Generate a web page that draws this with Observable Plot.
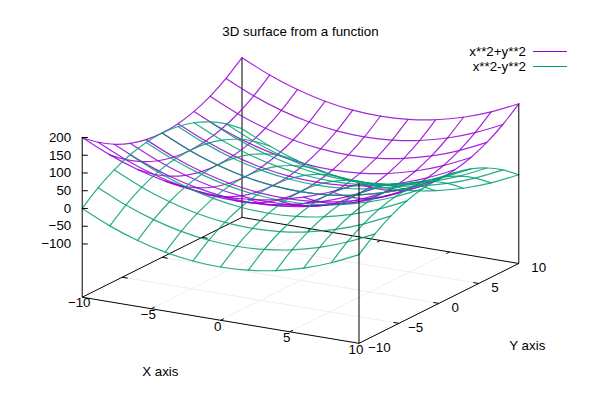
<!DOCTYPE html>
<html>
<head>
<meta charset="utf-8">
<script src="https://cdn.jsdelivr.net/npm/d3@7"></script>
<script src="https://cdn.jsdelivr.net/npm/@observablehq/plot@0.6"></script>
<style>
  html, body { margin: 0; padding: 0; background: #fff; }
  #chart { position: relative; width: 600px; height: 400px; font-family: "Liberation Sans", Arial, sans-serif; font-size: 13.33px; color: #000; }
  #legend { position: absolute; top: 44px; right: 33px; display: grid; grid-template-columns: auto 34px; column-gap: 7px; line-height: 15px; text-align: right; }
  #legend i { display: block; height: 1px; margin-top: 7px; }
  svg { display: block; }
</style>
</head>
<body>
<div id="chart"></div>
<script>
// Sample grid positions
const gridX = [-10, -8, -6, -4, -2, 0, 2, 4, 6, 8, 10];
const gridY = [-10, -8, -6, -4, -2, 0, 2, 4, 6, 8, 10];

// Surface heights: one row per gridX value, one column per gridY value
const sumSurface = [
  [200, 164, 136, 116, 104, 100, 104, 116, 136, 164, 200],
  [164, 128, 100,  80,  68,  64,  68,  80, 100, 128, 164],
  [136, 100,  72,  52,  40,  36,  40,  52,  72, 100, 136],
  [116,  80,  52,  32,  20,  16,  20,  32,  52,  80, 116],
  [104,  68,  40,  20,   8,   4,   8,  20,  40,  68, 104],
  [100,  64,  36,  16,   4,   0,   4,  16,  36,  64, 100],
  [104,  68,  40,  20,   8,   4,   8,  20,  40,  68, 104],
  [116,  80,  52,  32,  20,  16,  20,  32,  52,  80, 116],
  [136, 100,  72,  52,  40,  36,  40,  52,  72, 100, 136],
  [164, 128, 100,  80,  68,  64,  68,  80, 100, 128, 164],
  [200, 164, 136, 116, 104, 100, 104, 116, 136, 164, 200]
];
const diffSurface = [
  [   0,  36,  64,  84,  96, 100,  96,  84,  64,  36,   0],
  [ -36,   0,  28,  48,  60,  64,  60,  48,  28,   0, -36],
  [ -64, -28,   0,  20,  32,  36,  32,  20,   0, -28, -64],
  [ -84, -48, -20,   0,  12,  16,  12,   0, -20, -48, -84],
  [ -96, -60, -32, -12,   0,   4,   0, -12, -32, -60, -96],
  [-100, -64, -36, -16,  -4,   0,  -4, -16, -36, -64,-100],
  [ -96, -60, -32, -12,   0,   4,   0, -12, -32, -60, -96],
  [ -84, -48, -20,   0,  12,  16,  12,   0, -20, -48, -84],
  [ -64, -28,   0,  20,  32,  36,  32,  20,   0, -28, -64],
  [ -36,   0,  28,  48,  60,  64,  60,  48,  28,   0, -36],
  [   0,  36,  64,  84,  96, 100,  96,  84,  64,  36,   0]
];

// Axis ticks
const xTicks = [-10, -5, 0, 5, 10];
const yTicks = [-10, -5, 0, 5, 10];
const zTicks = [-100, -50, 0, 50, 100, 150, 200];
const gridTicks = [-5, 0, 5];

// Axis ranges
const xRange = [-10, 10];
const yRange = [-10, 10];
const zBase = -250;
const zTop = 200;

// Text
const titleText = "3D surface from a function";
const xLabel = "X axis";
const yLabel = "Y axis";
const legendEntries = [
  { label: "x**2+y**2", color: "#9400D3" },
  { label: "x**2-y**2", color: "#009E73" }
];

// gnuplot-style orthographic view: "set view 60, 30"
const rot = 30 * Math.PI / 180;
const tilt = 60 * Math.PI / 180;
const zUnit = 0.0385;
const project = (x, y, z) => ({
  u: x * Math.cos(rot) + y * Math.sin(rot),
  v: (-x * Math.sin(rot) + y * Math.cos(rot)) * Math.cos(tilt) + (z - zBase) * zUnit
});

const fmt = (n) => String(n).replace("-", "\u2212");

// Polylines of one surface: one line per x value, one per y value
function surfaceLines(rows) {
  const out = [];
  rows.forEach((row, i) => row.forEach((z, j) => {
    const p = project(gridX[i], gridY[j], z);
    out.push({ line: "x" + i, order: j, u: p.u, v: p.v });
    out.push({ line: "y" + j, order: i, u: p.u, v: p.v });
  }));
  return out;
}

// Straight segment in 3D
const seg = (a, b, extra) => {
  const p = project(...a), q = project(...b);
  return { u1: p.u, v1: p.v, u2: q.u, v2: q.v, ...extra };
};

const [x0, x1] = xRange, [y0, y1] = yRange;

const backFrame = [
  seg([x0, y1, zBase], [x0, y0, zBase]),
  seg([x0, y1, zBase], [x1, y1, zBase]),
  seg([x0, y1, zBase], [x0, y1, zTop])
];
const frontFrame = [
  seg([x0, y0, zBase], [x1, y0, zBase]),
  seg([x1, y0, zBase], [x1, y1, zBase]),
  seg([x0, y0, zBase], [x0, y0, zTop]),
  seg([x1, y0, zBase], [x1, y0, zTop]),
  seg([x1, y1, zBase], [x1, y1, zTop])
];
const baseGrid = [
  ...gridTicks.map(t => seg([t, y0, zBase], [t, y1, zBase])),
  ...gridTicks.map(t => seg([x0, t, zBase], [x1, t, zBase]))
];
const tickLen = 0.4;
const inner = xTicks.slice(1, -1);
const innerY = yTicks.slice(1, -1);
const tickSegs = [
  ...inner.map(t => seg([t, y0, zBase], [t, y0 + tickLen, zBase])),
  ...inner.map(t => seg([t, y1, zBase], [t, y1 - tickLen, zBase])),
  ...innerY.map(t => seg([x1, t, zBase], [x1 - tickLen, t, zBase])),
  ...innerY.map(t => seg([x0, t, zBase], [x0 + tickLen, t, zBase]))
];
const zTickPts = zTicks.map(z => ({ z, ...project(x0, y0, z) }));
const zTickLen = 0.35;

const xTickPts = xTicks.map(t => ({ t, ...project(t, y0, zBase) }));
const yTickPts = yTicks.map(t => ({ t, ...project(x1, t, zBase) }));

const uHalf = 300 / 15.98;
const chart = Plot.plot({
  width: 600,
  height: 400,
  margin: 0,
  style: { fontFamily: '"Liberation Sans", Arial, sans-serif', fontSize: "13.33px", background: "#fff" },
  x: { axis: null, domain: [-uHalf, uHalf] },
  y: { axis: null, domain: [(279.85 - 400) / 9.22, 279.85 / 9.22] },
  marks: [
    Plot.link(baseGrid, { x1: "u1", y1: "v1", x2: "u2", y2: "v2", stroke: "#eeeeee", strokeWidth: 1 }),
    Plot.link(backFrame, { x1: "u1", y1: "v1", x2: "u2", y2: "v2", stroke: "#000", strokeWidth: 1 }),
    Plot.link(tickSegs, { x1: "u1", y1: "v1", x2: "u2", y2: "v2", stroke: "#000", strokeWidth: 1 }),
    Plot.line(surfaceLines(sumSurface), { x: "u", y: "v", z: "line", sort: "order", curve: "natural", stroke: legendEntries[0].color, strokeWidth: 1.2, strokeOpacity: 0.85 }),
    Plot.line(surfaceLines(diffSurface), { x: "u", y: "v", z: "line", sort: "order", curve: "natural", stroke: legendEntries[1].color, strokeWidth: 1.2, strokeOpacity: 0.85 }),
    Plot.link(frontFrame, { x1: "u1", y1: "v1", x2: "u2", y2: "v2", stroke: "#000", strokeWidth: 1 }),
    Plot.link(zTickPts, { x1: "u", y1: "v", x2: d => d.u + zTickLen, y2: "v", stroke: "#000", strokeWidth: 1 }),
    Plot.text(zTickPts, { x: "u", y: "v", text: d => fmt(d.z), textAnchor: "end", dx: -11, fill: "#000" }),
    Plot.text(xTickPts, { x: "u", y: "v", text: d => fmt(d.t), dx: -3, dy: 6, fill: "#000" }),
    Plot.text(yTickPts.filter(d => d.t >= 0), { x: "u", y: "v", text: d => fmt(d.t), textAnchor: "start", dx: 12.5, dy: 4.3, fill: "#000" }),
    Plot.text(yTickPts.filter(d => d.t < 0), { x: "u", y: "v", text: d => fmt(d.t), textAnchor: "start", dx: 9, dy: 4.3, fill: "#000" }),
    Plot.text([project(0, y0, zBase)], { x: "u", y: "v", text: () => xLabel, dx: -60.3, dy: 51, fill: "#000" }),
    Plot.text([project(x1, 0, zBase)], { x: "u", y: "v", text: () => yLabel, dx: 88.4, dy: 42.3, fill: "#000" }),
    Plot.text([titleText], { frameAnchor: "top", lineAnchor: "middle", dy: 31, fill: "#000" })
  ]
});
const host = document.getElementById("chart");
host.appendChild(chart);

const legend = document.createElement("div");
legend.id = "legend";
legendEntries.forEach(e => {
  const t = document.createElement("span");
  t.textContent = e.label;
  const s = document.createElement("i");
  s.style.background = e.color;
  legend.append(t, s);
});
host.appendChild(legend);
</script>
</body>
</html>
